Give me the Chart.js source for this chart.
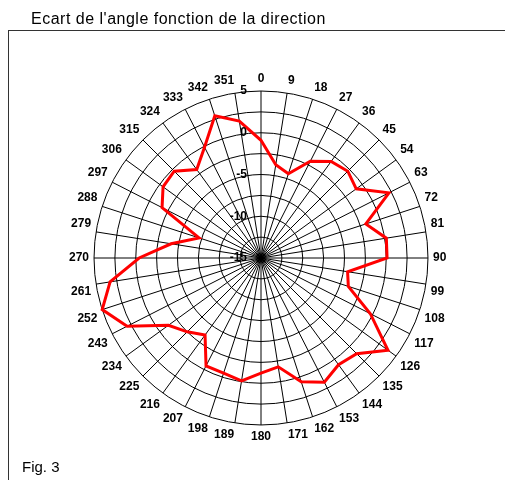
<!DOCTYPE html>
<html>
<head>
<meta charset="utf-8">
<script src="https://cdn.jsdelivr.net/npm/chart.js@4/dist/chart.umd.min.js"></script>
<style>
  html, body { margin: 0; padding: 0; background: #fff; }
  #page { position: relative; width: 505px; height: 480px; overflow: hidden; font-family: Arial, "Liberation Sans", sans-serif; }
  #frame { position: absolute; left: 8px; top: 30px; width: 520px; height: 470px; border-left: 1px solid #333; border-top: 1px solid #333; }
  #chart { position: absolute; left: 0; top: 0; }
  .txt { position: absolute; color: #000; white-space: nowrap; }
  #title { left: 31px; top: 11px; font-size: 16px; line-height: 16px; letter-spacing: 0.5px; }
  #fig { left: 22px; top: 459px; font-size: 15px; line-height: 15px; }
</style>
</head>
<body>
<div id="page">
  <div id="frame"></div>
  <canvas id="chart" width="505" height="480"></canvas>
  <div class="txt" id="title">Ecart de l'angle fonction de la direction</div>
  <div class="txt" id="fig">Fig. 3</div>
</div>
<script>
// directions (degrees) round the dial
const directions = ['0', '9', '18', '27', '36', '45', '54', '63', '72', '81',
  '90', '99', '108', '117', '126', '135', '144', '153', '162', '171',
  '180', '189', '198', '207', '216', '225', '234', '243', '252', '261',
  '270', '279', '288', '297', '306', '315', '324', '333', '342', '351'];

// ecart de l'angle for each direction
const ecartAngle = [-0.9, -3.7, -4.4, -2.0, -0.7, -0.3, -0.9, 2.2, -1.8, 0.2,
  0.1, -4.5, -4.0, -0.3, 3.8, 1.2, 0.8, 1.7, 0.6, -1.8,
  -1.2, -0.1, -0.5, -0.5, -3.6, -2.5, -1.3, 3.0, 5.0, 3.3,
  -0.4, -4.1, -7.2, -1.7, -0.5, -0.3, -1.9, -0.1, 2.9, 1.6];

// labelled radial ticks
const tickValues = [-15, -10, -5, 0, 5];

// radial tick labels sit left of the vertical axis, right aligned
const tickLabelPlugin = {
  id: 'tickLabels',
  afterDatasetsDraw(chart) {
    const r = chart.scales.r;
    const ctx = chart.ctx;
    ctx.save();
    ctx.font = 'bold 12px Arial';
    ctx.fillStyle = '#000';
    ctx.textAlign = 'right';
    ctx.textBaseline = 'middle';
    tickValues.forEach(v => {
      ctx.fillText(String(v), r.xCenter - 14, r.yCenter - r.getDistanceFromCenterForValue(v));
    });
    ctx.restore();
  }
};

const chart = new Chart(document.getElementById('chart'), {
  type: 'radar',
  data: {
    labels: directions,
    datasets: [{
      data: ecartAngle,
      borderColor: '#ff0000',
      borderWidth: 3,
      pointRadius: 0,
      fill: false,
      tension: 0
    }]
  },
  options: {
    responsive: false,
    animation: false,
    layout: { padding: { left: 66, top: 66, right: 54, bottom: 29 } },
    plugins: { legend: { display: false }, tooltip: { enabled: false } },
    scales: {
      r: {
        min: -15,
        max: 5,
        ticks: { stepSize: 2.5, display: false },
        grid: { circular: true, color: '#000', lineWidth: 1 },
        angleLines: { color: '#000', lineWidth: 1 },
        pointLabels: {
          color: '#000',
          padding: 5,
          font: { family: 'Arial', size: 12, weight: 'bold' }
        }
      }
    }
  },
  plugins: [tickLabelPlugin]
});
</script>
</body>
</html>
